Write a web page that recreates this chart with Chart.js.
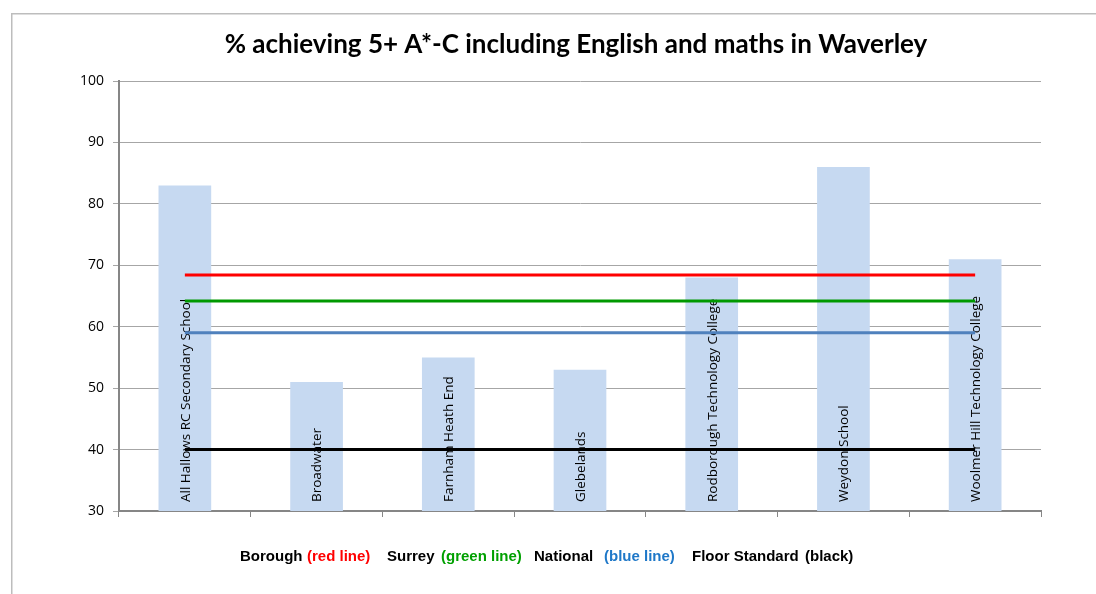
<!DOCTYPE html>
<html>
<head>
<meta charset="utf-8">
<script src="https://cdn.jsdelivr.net/npm/chart.js@4/dist/chart.umd.min.js"></script>
<style>
html,body{margin:0;padding:0;background:#fff;}
#wrap{position:relative;width:1096px;height:594px;}
canvas{display:block;}
</style>
</head>
<body>
<div id="wrap"><canvas id="c" width="1096" height="594"></canvas></div>
<script>
const schools = ["All Hallows RC Secondary School","Broadwater","Farnham Heath End","Glebelands","Rodborough Technology College","Weydon School","Woolmer Hill Technology College"];
const pctAchieving = [83, 51, 55, 53, 68, 86, 71];
const boroughLine = [68.4, 68.4, 68.4, 68.4, 68.4, 68.4, 68.4];
const surreyLine = [64.2, 64.2, 64.2, 64.2, 64.2, 64.2, 64.2];
const nationalLine = [59, 59, 59, 59, 59, 59, 59];
const floorStandard = [40, 40, 40, 40, 40, 40, 40];
const yTicks = [30, 40, 50, 60, 70, 80, 90, 100];
const titleText = "% achieving 5+ A*-C including English and maths in Waverley";
const legendParts = [
  {text:"Borough", color:"#000000", x:240},
  {text:"(red line)", color:"#ff0000", x:307},
  {text:"Surrey", color:"#000000", x:387},
  {text:"(green line)", color:"#00a000", x:441},
  {text:"National", color:"#000000", x:534},
  {text:"(blue line)", color:"#1f78c8", x:604},
  {text:"Floor Standard", color:"#000000", x:692},
  {text:"(black)", color:"#000000", x:805}
];

const decor = {
  id:'decor',
  beforeDraw(chart){
    const ctx = chart.ctx;
    ctx.save();
    ctx.fillStyle = '#ffffff';
    ctx.fillRect(0,0,chart.width,chart.height);
    ctx.fillStyle = '#bdbdbd';
    ctx.fillRect(11,13,chart.width-11,1.5);
    ctx.fillRect(11,13,1.5,chart.height-13);
    ctx.restore();
  },
  afterDatasetDraw(chart, args){
    if(args.index !== 0) return;
    const ctx = chart.ctx;
    const meta = chart.getDatasetMeta(0);
    const yb = chart.chartArea.bottom - 9;
    ctx.save();
    ctx.font = '13.5px "Open Sans"';
    ctx.fillStyle = '#000';
    ctx.textAlign = 'left';
    ctx.textBaseline = 'middle';
    meta.data.forEach((bar,i)=>{
      ctx.save();
      ctx.translate(bar.x+1, yb);
      ctx.rotate(-Math.PI/2);
      ctx.fillText(schools[i],0,0);
      ctx.restore();
    });
    ctx.restore();
  },
  afterDraw(chart){
    const ctx = chart.ctx;
    ctx.save();
    ctx.font = 'bold 26px Lato';
    ctx.fillStyle = '#000';
    ctx.textAlign = 'center';
    ctx.textBaseline = 'middle';
    ctx.fillText(titleText, 576, 45);
    ctx.font = 'bold 15px "Liberation Sans"';
    ctx.textAlign = 'left';
    legendParts.forEach(p=>{ ctx.fillStyle = p.color; ctx.fillText(p.text, p.x, 557); });
    ctx.restore();
  }
};

const lineDs = (label, data, color) => ({
  type:'line', label, data, borderColor:color, backgroundColor:color,
  borderWidth:3, pointRadius:0, pointHoverRadius:0, tension:0, fill:false, order:1, borderCapStyle:'butt'
});

new Chart(document.getElementById('c'), {
  type:'bar',
  data:{
    labels: schools,
    datasets:[
      {type:'bar', label:'% achieving', data:pctAchieving, backgroundColor:'#c6d9f1', borderWidth:0,
       categoryPercentage:1.0, barPercentage:0.4, order:2},
      lineDs('Borough', boroughLine, '#ff0000'),
      lineDs('Surrey', surreyLine, '#009900'),
      lineDs('National', nationalLine, '#4f81bd'),
      lineDs('Floor Standard', floorStandard, '#000000')
    ]
  },
  options:{
    responsive:false, animation:false, devicePixelRatio:1,
    layout:{padding:{left:0, right:55, top:81, bottom:0}},
    plugins:{legend:{display:false}, tooltip:{enabled:false}, title:{display:false}},
    scales:{
      x:{
        offset:true,
        grid:{display:true, drawOnChartArea:false, offset:true, tickLength:6, color:'#868686', lineWidth:1},
        border:{display:true, color:'#868686', width:2},
        ticks:{callback:()=> '', font:{size:1}},
        afterFit(s){ s.height = 83; }
      },
      y:{
        min:30, max:100,
        afterBuildTicks(s){ s.ticks = yTicks.map(v=>({value:v})); },
        grid:{color:'#a6a6a6', lineWidth:1, tickLength:6, drawTicks:true},
        border:{display:true, color:'#868686', width:2},
        ticks:{color:'#000', font:{family:'"Open Sans"', size:14}, padding:9},
        afterFit(s){ s.width = 119; }
      }
    }
  },
  plugins:[decor]
});
</script>
</body>
</html>
